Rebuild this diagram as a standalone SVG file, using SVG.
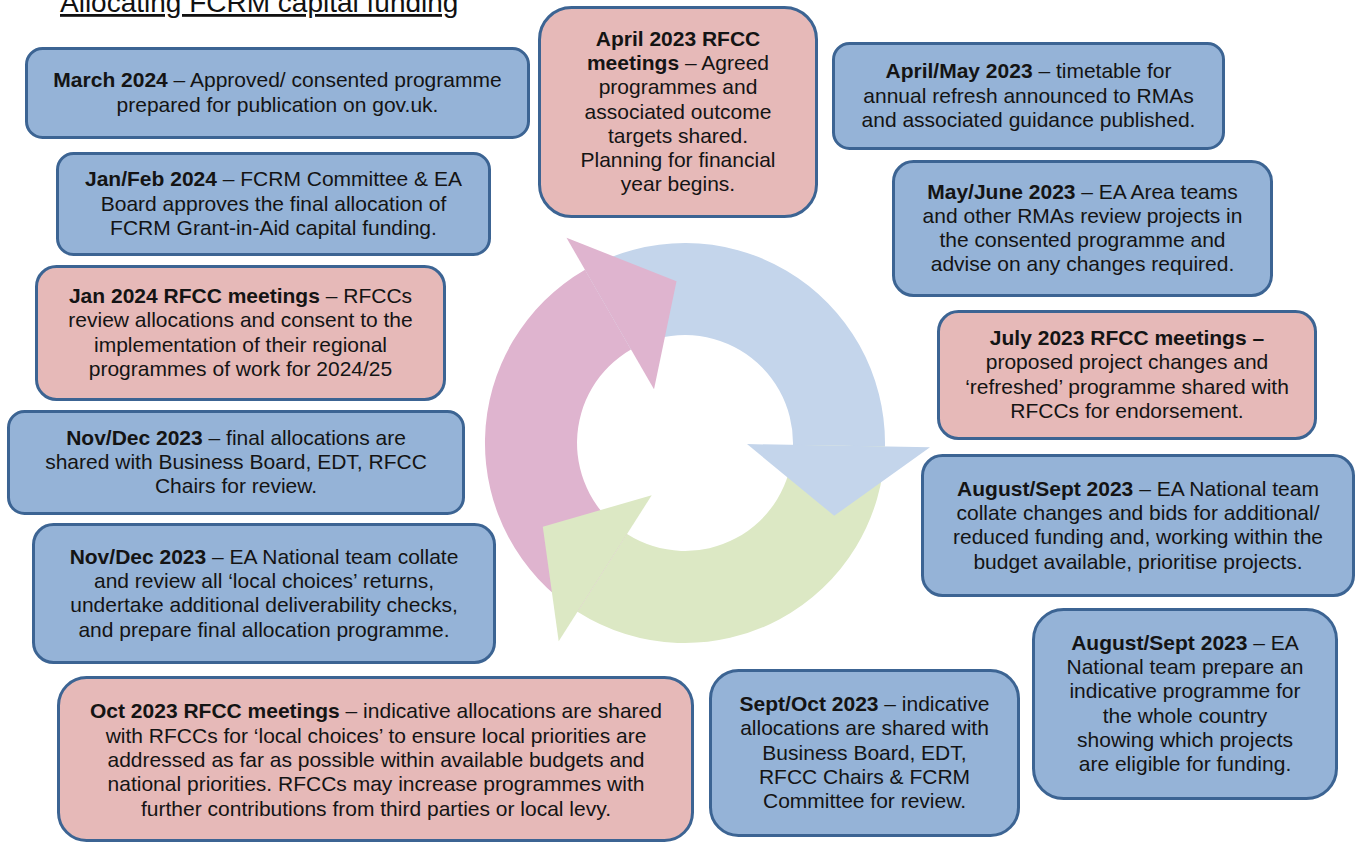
<svg xmlns="http://www.w3.org/2000/svg" width="1362" height="843" viewBox="0 0 1362 843">
  <style>
    .bg { fill: #ffffff; }
    .title { font-family: "Liberation Sans", Arial, sans-serif; font-size: 28px; fill: #111111; text-decoration: underline; }
    .box { stroke: #3c6493; stroke-width: 3; }
    .blue { fill: #95b3d7; }
    .pink { fill: #e6b9b8; }
    .t { font-family: "Liberation Sans", Arial, sans-serif; font-size: 21px; fill: #141414; text-anchor: middle; }
    .b { font-weight: bold; }
    .arc-blue { fill: #c4d5eb; }
    .arc-green { fill: #dce8c4; }
    .arc-pink { fill: #dfb4cf; }
  </style>

  <rect class="bg" x="0" y="0" width="1362" height="843"/>

  <text class="title" x="60" y="12">Allocating FCRM capital funding</text>

  <!-- central cycle: three curved arrows around (685,443) -->
  <g id="connectors">
    <!-- arrow bodies -->
    <path class="arc-blue" d="M585,269.8 A200,200 0 0 1 884.97,446.49 L792.98,444.88 A108,108 0 0 0 631,349.5 Z"/>
    <path class="arc-green" d="M884.97,446.49 A200,200 0 0 1 577.5,611.7 L627,534.1 A108,108 0 0 0 792.98,444.88 Z"/>
    <path class="arc-pink" d="M577.5,611.7 A200,200 0 0 1 585,269.8 L631,349.5 A108,108 0 0 0 627,534.1 Z"/>
    <!-- arrowheads -->
    <polygon class="arc-blue" points="747,444.1 930,447.3 834.2,515.8"/>
    <polygon class="arc-green" points="651.7,495.3 558.7,641.2 542.8,526.7"/>
    <polygon class="arc-pink" points="654,389.3 566.5,237.8 676.5,281.2"/>
  </g>

  <g id="node-mar2024">
    <rect class="box blue" x="26.5" y="48.5" width="502" height="89" rx="16"/>
    <text class="t" x="277.5" y="87.3"><tspan class="b">March 2024</tspan> – Approved/ consented programme</text>
    <text class="t" x="277.5" y="111.6">prepared for publication on gov.uk.</text>
  </g>

  <g id="node-janfeb2024">
    <rect class="box blue" x="57.5" y="153.5" width="432" height="101" rx="16"/>
    <text class="t" x="273.5" y="186.2"><tspan class="b">Jan/Feb 2024</tspan> – FCRM Committee &amp; EA</text>
    <text class="t" x="273.5" y="210.5">Board approves the final allocation of</text>
    <text class="t" x="273.5" y="234.8">FCRM Grant-in-Aid capital funding.</text>
  </g>

  <g id="node-jan2024-rfcc">
    <rect class="box pink" x="36.5" y="266.5" width="408" height="133" rx="20"/>
    <text class="t" x="240.5" y="303"><tspan class="b">Jan 2024 RFCC meetings</tspan> – RFCCs</text>
    <text class="t" x="240.5" y="327.4">review allocations and consent to the</text>
    <text class="t" x="240.5" y="351.7">implementation of their regional</text>
    <text class="t" x="240.5" y="376">programmes of work for 2024/25</text>
  </g>

  <g id="node-novdec2023-final">
    <rect class="box blue" x="8.5" y="411.5" width="455" height="102" rx="16"/>
    <text class="t" x="236" y="444.7"><tspan class="b">Nov/Dec 2023</tspan> – final allocations are</text>
    <text class="t" x="236" y="469">shared with Business Board, EDT, RFCC</text>
    <text class="t" x="236" y="493.3">Chairs for review.</text>
  </g>

  <g id="node-novdec2023-review">
    <rect class="box blue" x="33.5" y="524.5" width="461" height="138" rx="20"/>
    <text class="t" x="264" y="563.5"><tspan class="b">Nov/Dec 2023</tspan> – EA National team collate</text>
    <text class="t" x="264" y="587.9">and review all ‘local choices’ returns,</text>
    <text class="t" x="264" y="612.2">undertake additional deliverability checks,</text>
    <text class="t" x="264" y="636.5">and prepare final allocation programme.</text>
  </g>

  <g id="node-oct2023-rfcc">
    <rect class="box pink" x="58.5" y="677.5" width="634" height="163" rx="28"/>
    <text class="t" x="376" y="718.4"><tspan class="b">Oct 2023 RFCC meetings</tspan> – indicative allocations are shared</text>
    <text class="t" x="376" y="742.7">with RFCCs for ‘local choices’ to ensure local priorities are</text>
    <text class="t" x="376" y="767">addressed as far as possible within available budgets and</text>
    <text class="t" x="376" y="791.3">national priorities. RFCCs may increase programmes with</text>
    <text class="t" x="376" y="815.6">further contributions from third parties or local levy.</text>
  </g>

  <g id="node-septoct2023">
    <rect class="box blue" x="710.5" y="670.5" width="308" height="165" rx="28"/>
    <text class="t" x="864.5" y="710.9"><tspan class="b">Sept/Oct 2023</tspan> – indicative</text>
    <text class="t" x="864.5" y="735.2">allocations are shared with</text>
    <text class="t" x="864.5" y="759.5">Business Board, EDT,</text>
    <text class="t" x="864.5" y="783.8">RFCC Chairs &amp; FCRM</text>
    <text class="t" x="864.5" y="808.1">Committee for review.</text>
  </g>

  <g id="node-augsept2023-prepare">
    <rect class="box blue" x="1033.5" y="609.5" width="303" height="189" rx="30"/>
    <text class="t" x="1185" y="649.8"><tspan class="b">August/Sept 2023</tspan> – EA</text>
    <text class="t" x="1185" y="674.1">National team prepare an</text>
    <text class="t" x="1185" y="698.4">indicative programme for</text>
    <text class="t" x="1185" y="722.6">the whole country</text>
    <text class="t" x="1185" y="746.9">showing which projects</text>
    <text class="t" x="1185" y="771.2">are eligible for funding.</text>
  </g>

  <g id="node-augsept2023-collate">
    <rect class="box blue" x="922.5" y="455.5" width="431" height="140" rx="20"/>
    <text class="t" x="1138" y="495.6"><tspan class="b">August/Sept 2023</tspan> – EA National team</text>
    <text class="t" x="1138" y="519.9">collate changes and bids for additional/</text>
    <text class="t" x="1138" y="544.2">reduced funding and, working within the</text>
    <text class="t" x="1138" y="568.6">budget available, prioritise projects.</text>
  </g>

  <g id="node-jul2023-rfcc">
    <rect class="box pink" x="938.5" y="311.5" width="377" height="127" rx="20"/>
    <text class="t" x="1127" y="345"><tspan class="b">July 2023 RFCC meetings –</tspan></text>
    <text class="t" x="1127" y="369.4">proposed project changes and</text>
    <text class="t" x="1127" y="393.7">‘refreshed’ programme shared with</text>
    <text class="t" x="1127" y="418">RFCCs for endorsement.</text>
  </g>

  <g id="node-mayjun2023">
    <rect class="box blue" x="893.5" y="161.5" width="378" height="134" rx="20"/>
    <text class="t" x="1082.5" y="198.5"><tspan class="b">May/June 2023</tspan> – EA Area teams</text>
    <text class="t" x="1082.5" y="222.8">and other RMAs review projects in</text>
    <text class="t" x="1082.5" y="247.1">the consented programme and</text>
    <text class="t" x="1082.5" y="271.4">advise on any changes required.</text>
  </g>

  <g id="node-aprmay2023">
    <rect class="box blue" x="833.5" y="43.5" width="390" height="105" rx="16"/>
    <text class="t" x="1028.5" y="78.2"><tspan class="b">April/May 2023</tspan> – timetable for</text>
    <text class="t" x="1028.5" y="102.5">annual refresh announced to RMAs</text>
    <text class="t" x="1028.5" y="126.8">and associated guidance published.</text>
  </g>

  <g id="node-apr2023-rfcc">
    <rect class="box pink" x="539.5" y="7.5" width="277" height="209" rx="32"/>
    <text class="t" x="678" y="45.6"><tspan class="b">April 2023 RFCC</tspan></text>
    <text class="t" x="678" y="69.9"><tspan class="b">meetings</tspan> – Agreed</text>
    <text class="t" x="678" y="94.2">programmes and</text>
    <text class="t" x="678" y="118.5">associated outcome</text>
    <text class="t" x="678" y="142.8">targets shared.</text>
    <text class="t" x="678" y="167.1">Planning for financial</text>
    <text class="t" x="678" y="191.4">year begins.</text>
  </g>
</svg>
